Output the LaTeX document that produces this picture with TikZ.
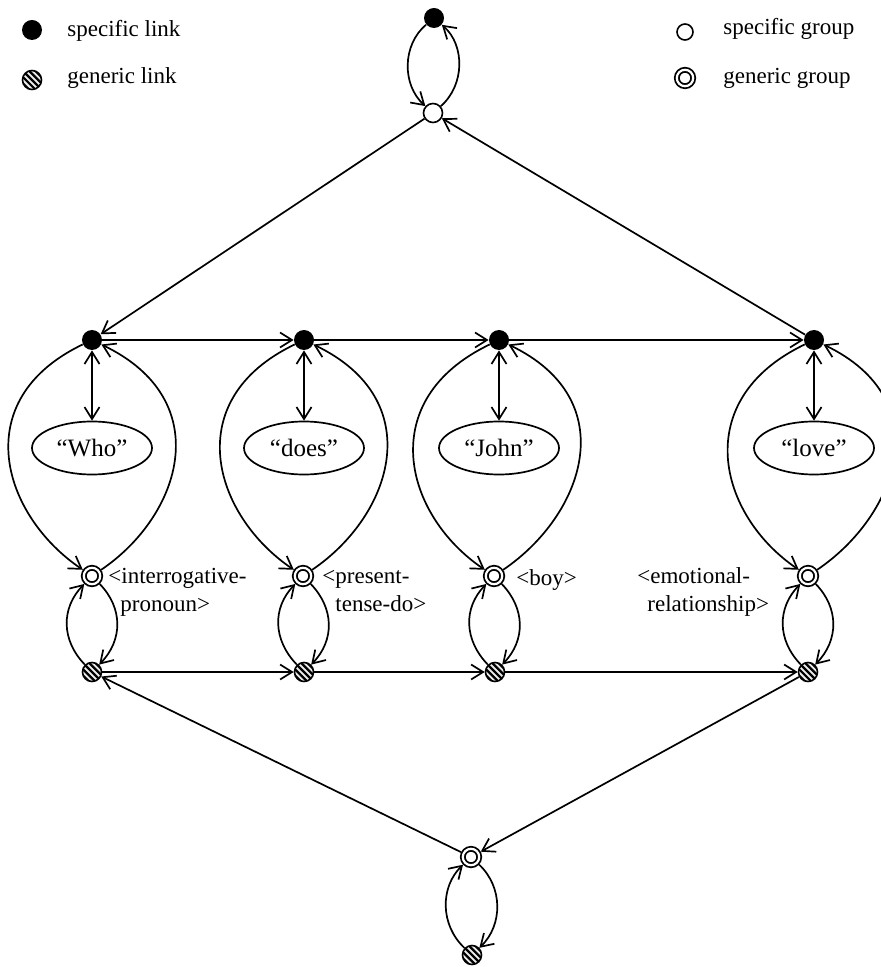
\documentclass[tikz,border=0pt]{standalone}
\usepackage{fontspec}
\setmainfont{Liberation Serif}
\usetikzlibrary{arrows.meta,shapes.geometric}
\tikzset{
  tip/.tip={Straight Barb[length=6pt,width=7.5pt,line width=0.85pt]},
  conn/.style={line width=0.85pt,-tip},
  biconn/.style={line width=0.85pt,tip-tip},
  slink/.style={circle,fill=black,minimum size=10pt,inner sep=0pt},
  glink/.style={circle,draw,line width=0.8pt,minimum size=9.5pt,inner sep=0pt,fill=gray!15,
    path picture={\foreach \k in {-3,...,3}{\draw[line width=1.1pt]
      ([xshift=\k*3.1pt]path picture bounding box.center) ++(-7pt,7pt) -- ++(14pt,-14pt);}}},
  sgroup/.style={circle,draw,line width=0.8pt,minimum size=9.5pt,inner sep=0pt,fill=white},
  ggroup/.style={circle,draw,line width=0.9pt,double distance=1.1pt,minimum size=8.2pt,inner sep=0pt,outer sep=1.45pt},
  word/.style={ellipse,draw,line width=0.85pt,minimum width=60pt,minimum height=26.5pt,inner sep=1pt,font=\fontsize{12.5}{15}\selectfont},
  lbl/.style={anchor=base west,inner sep=0pt,font=\fontsize{11.5}{14}\selectfont},
}
\begin{document}
\begin{tikzpicture}[x=0.5pt,y=-0.5pt]
\useasboundingbox (0,0) rectangle (880,967);
% legend
\node[slink] (legSL) at (32,30) {};
\node[lbl] (legSLt) at (67,37) {specific link};
\node[glink] (legGL) at (32,80) {};
\node[lbl] (legGLt) at (67,84) {generic link};
\node[sgroup,minimum size=8pt] (legSG) at (685,32) {};
\node[lbl] (legSGt) at (723,35) {specific group};
\node[ggroup] (legGG) at (685,78) {};
\node[lbl] (legGGt) at (723,84) {generic group};
% top
\node[slink] (T) at (434,18) {};
\node[sgroup] (G) at (433,113) {};
\draw[conn] (T) .. controls (402,45) and (402,85) .. (G);
\draw[conn] (G) .. controls (465,85) and (465,45) .. (T);
% columns
\foreach \i/\lx/\gx/\kx/\w in {1/92/92/92/“Who”,2/304/303/304/“does”,3/499/494/495/“John”,4/814/808/808/“love”}{
  \node[slink] (L\i) at (\lx,340) {};
  \node[word] (W\i) at (\lx,448) {\w};
  \node[ggroup] (g\i) at (\gx,576) {};
  \node[glink] (k\i) at (\kx,672) {};
  \draw[biconn] (L\i) -- (W\i);
  \draw[conn] (L\i) .. controls (\lx-125,400) and (\gx-90,515) .. (g\i);
  \draw[conn] (g\i) .. controls (\gx+90,515) and (\lx+125,400) .. (L\i);
  \draw[conn] (k\i) .. controls (\kx-31,640) and (\gx-31,608) .. (g\i);
  \draw[conn] (g\i) .. controls (\gx+31,608) and (\kx+31,640) .. (k\i);
}
\draw[conn] (G) -- (L1);
\draw[conn] (L4) -- (G);
\draw[conn] (L1) -- (L2);
\draw[conn] (L2) -- (L3);
\draw[conn] (L3) -- (L4);
\draw[conn] (k1) -- (k2);
\draw[conn] (k2) -- (k3);
\draw[conn] (k3) -- (k4);
% labels
\node[lbl] (t1a) at (108,583) {<interrogative-};
\node[lbl] (t1b) at (120,611) {pronoun>};
\node[lbl] (t2a) at (322,583) {<present-};
\node[lbl] (t2b) at (335,611) {tense-do>};
\node[lbl] (t3a) at (516,585) {<boy>};
\node[lbl] (t4a) at (637,583) {<emotional-};
\node[lbl] (t4b) at (647,611) {relationship>};
% bottom
\node[ggroup] (BG) at (471,857) {};
\node[glink] (KB) at (472,955) {};
\draw[conn] (BG) -- (k1);
\draw[conn] (k4) -- (BG);
\draw[conn] (KB) .. controls (440,925) and (440,887) .. (BG);
\draw[conn] (BG) .. controls (503,887) and (503,925) .. (KB);
\end{tikzpicture}
\end{document}
